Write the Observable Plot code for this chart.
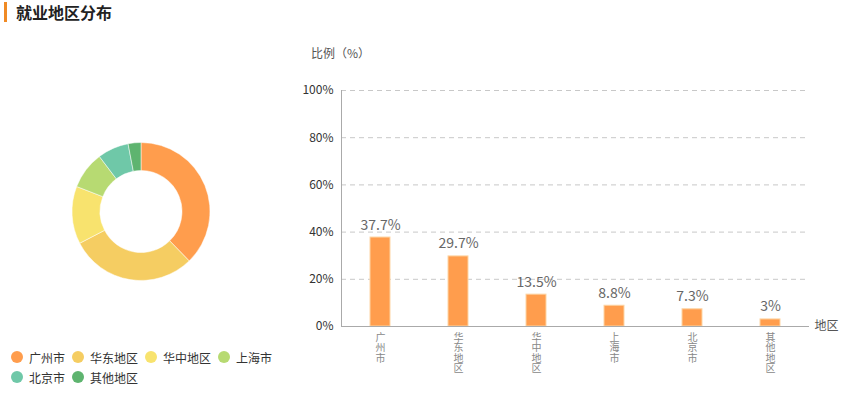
<!DOCTYPE html>
<html><head><meta charset="utf-8">
<script src="https://cdn.jsdelivr.net/npm/d3@7"></script>
<script src="https://cdn.jsdelivr.net/npm/@observablehq/plot@0.6"></script>
<style>
body{margin:0;width:848px;height:393px;position:relative;background:#fff;font-family:"Noto Sans CJK SC","Noto Sans",sans-serif;overflow:hidden}
#title{position:absolute;left:4px;top:2px;height:20px;border-left:3px solid #f08a24;padding-left:9px;font-size:16px;font-weight:bold;color:#222;line-height:20px}
#donut{position:absolute;left:0;top:100px}
#bar{position:absolute;left:280px;top:40px}
#ylab{position:absolute;left:311px;top:44px;font-size:12px;color:#555;z-index:2}
#legend{position:absolute;left:11px;top:349px;width:290px;display:flex;flex-wrap:wrap;row-gap:4px;font-size:12px;color:#333}
#legend .it{display:flex;align-items:center;margin-right:7px;height:16px}
#legend .dot{width:12px;height:12px;border-radius:50%;margin-right:6px}
</style></head><body>
<div id="title">就业地区分布</div>
<div id="donut"></div>
<div id="bar"></div>
<div id="ylab">比例（%）</div>
<div id="legend"></div>
<script>
const regions = ["广州市","华东地区","华中地区","上海市","北京市","其他地区"];
const shares = [37.7, 29.7, 13.5, 8.8, 7.3, 3];
const valueLabels = ["37.7%","29.7%","13.5%","8.8%","7.3%","3%"];
const colors = ["#ff9d4d","#f5cd62","#f8e36e","#b7da72","#6fc8a8","#5eb46f"];
const yTicks = [0,20,40,60,80,100];

const data = regions.map((r,i)=>({region:r, share:shares[i], label:valueLabels[i]}));

// Donut
const donut = Plot.plot({
  width: 282, height: 222, margin: 0,
  x:{axis:null}, y:{axis:null},
  marks:[
    (index, scales, values, dims) => {
      const g = d3.create("svg:g");
      const cx = dims.width/2, cy = dims.height/2 + 0.5;
      const arcs = d3.pie().sort(null).value(d=>d.share)(data);
      const arc = d3.arc().innerRadius(41).outerRadius(69);
      g.attr("transform",`translate(${cx},${cy})`)
       .selectAll("path").data(arcs).join("path")
       .attr("d", arc)
       .attr("fill",(d,i)=>colors[i])
       .attr("stroke","#fff").attr("stroke-width",0.5);
      return g.node();
    }
  ]
});
document.getElementById("donut").appendChild(donut);

// Legend
const lg = document.getElementById("legend");
regions.forEach((r,i)=>{
  const it = document.createElement("div"); it.className="it";
  it.innerHTML = `<span class="dot" style="background:${colors[i]}"></span><span>${r}</span>`;
  lg.appendChild(it);
});

// Bar chart
const bar = Plot.plot({
  width: 568, height: 353,
  marginLeft: 61, marginRight: 39, marginTop: 50, marginBottom: 67,
  style:{fontFamily:'"Noto Sans CJK SC","Noto Sans",sans-serif', background:"#fff"},
  x:{domain: regions, paddingInner: 0.74, paddingOuter: 0.37, axis: null},
  y:{domain:[0,100], axis:null},
  marks:[
    Plot.ruleY(yTicks.slice(1), {stroke:"#c8c8c8", strokeDasharray:"5,4"}),
    Plot.axisY(yTicks, {tickSize:0, tickPadding:8, tickFormat:d=>d+"%", fontSize:12, color:"#333", label:null}),
    Plot.barY(data, {x:"region", y:"share", fill:"#ff9d4d", stroke:"#fdd5a5", strokeWidth:1}),
    Plot.text(data, {x:"region", y:"share", text:"label", dy:-8, lineAnchor:"bottom", fontSize:14, fill:"#666"}),
    Plot.frame({anchor:"left", stroke:"#aaa"}),
    Plot.ruleY([0], {stroke:"#aaa"}),
    Plot.text(data, {x:"region", y:0, text:"region", lineAnchor:"middle", fontSize:10, fill:"#888", ariaDescription:"xcat"}),
    Plot.text(["地区"], {frameAnchor:"bottom-right", dx:29, dy:0, lineAnchor:"middle", textAnchor:"end", fontSize:12, fill:"#555"})
  ]
});
// stack the characters of each category label vertically (one glyph per position)
bar.querySelectorAll('g[aria-description="xcat"] text').forEach(t=>{
  const n = t.textContent.length;
  t.setAttribute("x", Array.from({length:n}, () => 0).join(" "));
  t.setAttribute("y", Array.from({length:n}, (_, k) => 14 + 10.5*k).join(" "));
});
document.getElementById("bar").appendChild(bar);
</script>
</body></html>
